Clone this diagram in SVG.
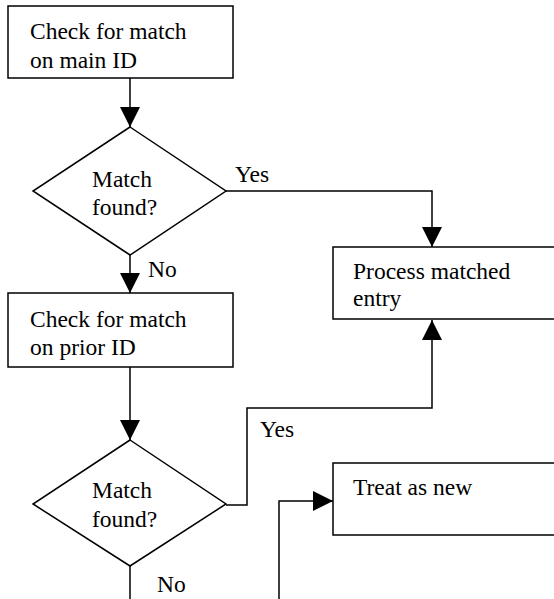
<svg xmlns="http://www.w3.org/2000/svg" width="554" height="599" viewBox="0 0 554 599">
<defs>
<marker id="ah" markerWidth="20" markerHeight="20" viewBox="0 0 20 20" refX="20" refY="10" orient="auto" markerUnits="userSpaceOnUse">
<path d="M0,0 L20,10 L0,20 Z" fill="#000"/>
</marker>
</defs>
<rect width="554" height="599" fill="#fff"/>
<g id="connectors">
<g fill="none" stroke="#000" stroke-width="1.5">
<path d="M130,78 V127" marker-end="url(#ah)"/>
<path d="M226,191 H432 V247" marker-end="url(#ah)"/>
<path d="M130,255 V293" marker-end="url(#ah)"/>
<path d="M130,367 V440" marker-end="url(#ah)"/>
<path d="M226,505 H247 V408 H432 V320" marker-end="url(#ah)"/>
<path d="M130,566 V600"/>
<path d="M279,600 V501 H333" marker-end="url(#ah)"/>
</g>
<text x="235" y="182" font-family="Liberation Serif" font-size="23.5">Yes</text>
<text x="148" y="277" font-family="Liberation Serif" font-size="23.5">No</text>
<text x="260" y="437" font-family="Liberation Serif" font-size="23.5">Yes</text>
<text x="157" y="592" font-family="Liberation Serif" font-size="23.5">No</text>
</g>
<g id="check_main">
<rect x="8" y="6" width="225" height="72" fill="#fff" stroke="#000" stroke-width="1.5"/>
<text x="30" y="39" font-family="Liberation Serif" font-size="23.5">Check for match</text>
<text x="30" y="68" font-family="Liberation Serif" font-size="23.5">on main ID</text>
</g>
<g id="decision1">
<polygon points="130,127 226,191 130,255 33,191" fill="#fff" stroke="#000" stroke-width="1.5"/>
<text x="92" y="187" font-family="Liberation Serif" font-size="23.5">Match</text>
<text x="92" y="215" font-family="Liberation Serif" font-size="23.5">found?</text>
</g>
<g id="process_matched">
<rect x="333" y="247" width="230" height="72" fill="#fff" stroke="#000" stroke-width="1.5"/>
<text x="353" y="279" font-family="Liberation Serif" font-size="23.5">Process matched</text>
<text x="353" y="306" font-family="Liberation Serif" font-size="23.5">entry</text>
</g>
<g id="check_prior">
<rect x="8" y="293" width="225" height="74" fill="#fff" stroke="#000" stroke-width="1.5"/>
<text x="30" y="327" font-family="Liberation Serif" font-size="23.5">Check for match</text>
<text x="30" y="355" font-family="Liberation Serif" font-size="23.5">on prior ID</text>
</g>
<g id="decision2">
<polygon points="130,440 226,504 130,566 33,504" fill="#fff" stroke="#000" stroke-width="1.5"/>
<text x="92" y="498" font-family="Liberation Serif" font-size="23.5">Match</text>
<text x="92" y="527" font-family="Liberation Serif" font-size="23.5">found?</text>
</g>
<g id="treat_new">
<rect x="333" y="463" width="230" height="72" fill="#fff" stroke="#000" stroke-width="1.5"/>
<text x="353" y="495" font-family="Liberation Serif" font-size="23.5">Treat as new</text>
</g>
</svg>
